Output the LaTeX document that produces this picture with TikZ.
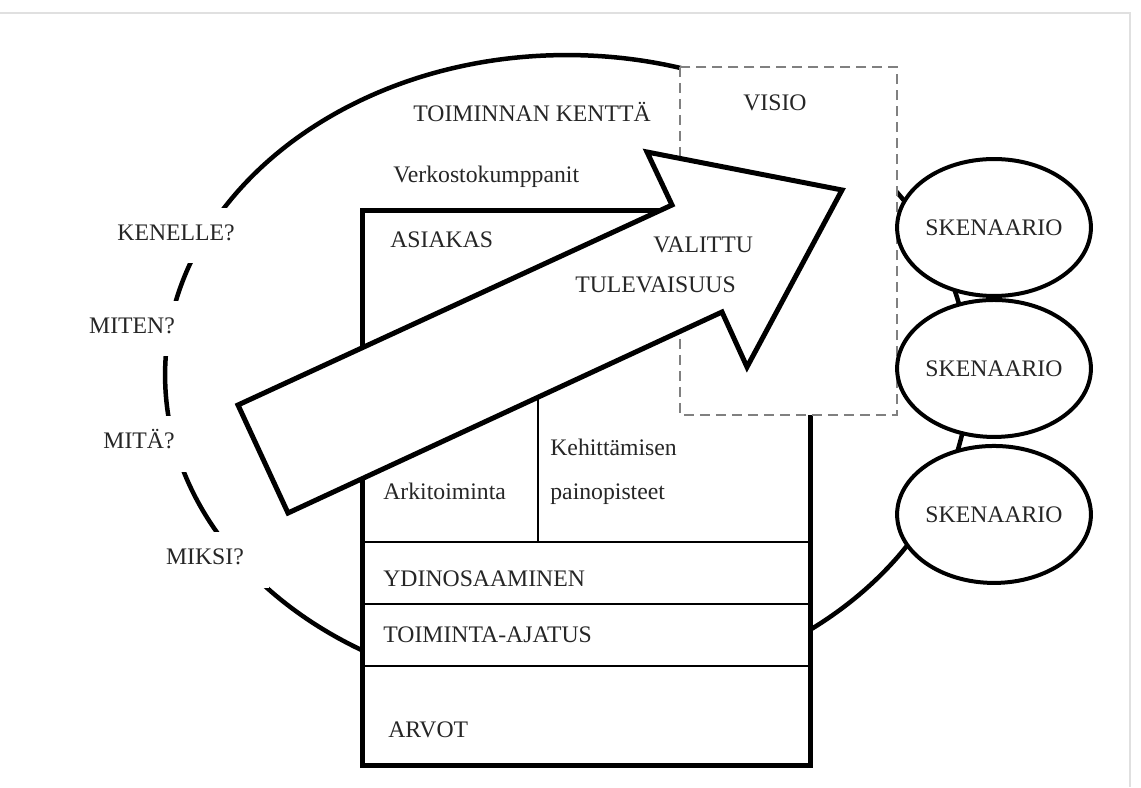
\documentclass[tikz,border=0pt]{standalone}
\usepackage{fontspec}
\setmainfont{Liberation Serif}
\usepackage{tikz}
\usetikzlibrary{positioning,shapes.geometric}
\newcommand{\strategyfont}{\fontsize{13.5}{16}\selectfont}
\tikzset{
  field-outline/.style={draw=black, line width=0.09cm},
  house-frame/.style={draw=black, fill=white, line width=0.1cm},
  house-divider/.style={draw=black, line width=0.03cm},
  vision-frame/.style={draw=black!50, fill=white, dash pattern=on 0.2cm off 0.12cm, line width=0.03cm},
  future-arrow/.style={draw=black, fill=white, line width=0.1cm, line join=miter},
  scenario-oval/.style={ellipse, draw=black, fill=white, line width=0.08cm, inner sep=0pt,
    minimum width=3.82cm, minimum height=2.74cm, font=\strategyfont, text=black!85},
  strategy-text/.style={inner sep=0pt, anchor=base west, font=\strategyfont, text=black!85},
  question-text/.style={fill=white, inner xsep=0.5cm, inner ysep=0pt, minimum height=1.12cm,
    text height=0.33cm, text depth=0.14cm, font=\strategyfont, text=black!85}
}

\begin{document}
\begin{tikzpicture}[x=0.02cm, y=-0.02cm]
  \useasboundingbox (0,0) rectangle (1141,787);
  \draw[black!12, line width=0.05cm] (0,13) -- (1130,13) -- (1130,787);
  % field of operation
  \draw[field-outline] (567,375) ellipse [x radius=8.04cm, y radius=6.4cm];
  % house
  \draw[house-frame] (362,210) rectangle (810,765);
  \foreach \y in {542,604,666}
    \draw[house-divider] (362,\y) -- (810,\y);
  \draw[house-divider] (538,350) -- (538,542);
  % vision and chosen future
  \draw[vision-frame] (680,67) rectangle (897,415);
  \draw[future-arrow] (238,405) -- (672,205) -- (647,152) -- (842,190)
    -- (747,367) -- (722,312) -- (288,513) -- cycle;
  % scenarios
  \node[scenario-oval] (scenario-a) at (994,227.5) {SKENAARIO};
  \node[scenario-oval, below=0pt of scenario-a] (scenario-b) {SKENAARIO};
  \node[scenario-oval, below=0.1cm of scenario-b] (scenario-c) {SKENAARIO};
  % questions
  \node[question-text] (q-whom) at (176,235.5) {KENELLE?};
  \node[question-text] (q-how) at (132,328.5) {MITEN?};
  \node[question-text] (q-what) at (139,443.5) {MITÄ?};
  \node[question-text] (q-why) at (205,560) {MIKSI?};
  % labels
  \node[strategy-text] (field-title) at (413,122) {TOIMINNAN KENTTÄ};
  \node[strategy-text] (vision-title) at (743,111) {VISIO};
  \node[strategy-text] (partners) at (393,182) {Verkostokumppanit};
  \node[strategy-text] (customer) at (390,247) {ASIAKAS};
  \node[strategy-text] (future-a) at (653,252) {VALITTU};
  \node[strategy-text] (future-b) at (575,292) {TULEVAISUUS};
  \node[strategy-text] (daily) at (383,499) {Arkitoiminta};
  \node[strategy-text] (focus-a) at (550,455) {Kehittämisen};
  \node[strategy-text] (focus-b) at (550,499) {painopisteet};
  \node[strategy-text] (core) at (383,586) {YDINOSAAMINEN};
  \node[strategy-text] (mission) at (383,642) {TOIMINTA-AJATUS};
  \node[strategy-text] (values) at (388,737) {ARVOT};
\end{tikzpicture}
\end{document}
